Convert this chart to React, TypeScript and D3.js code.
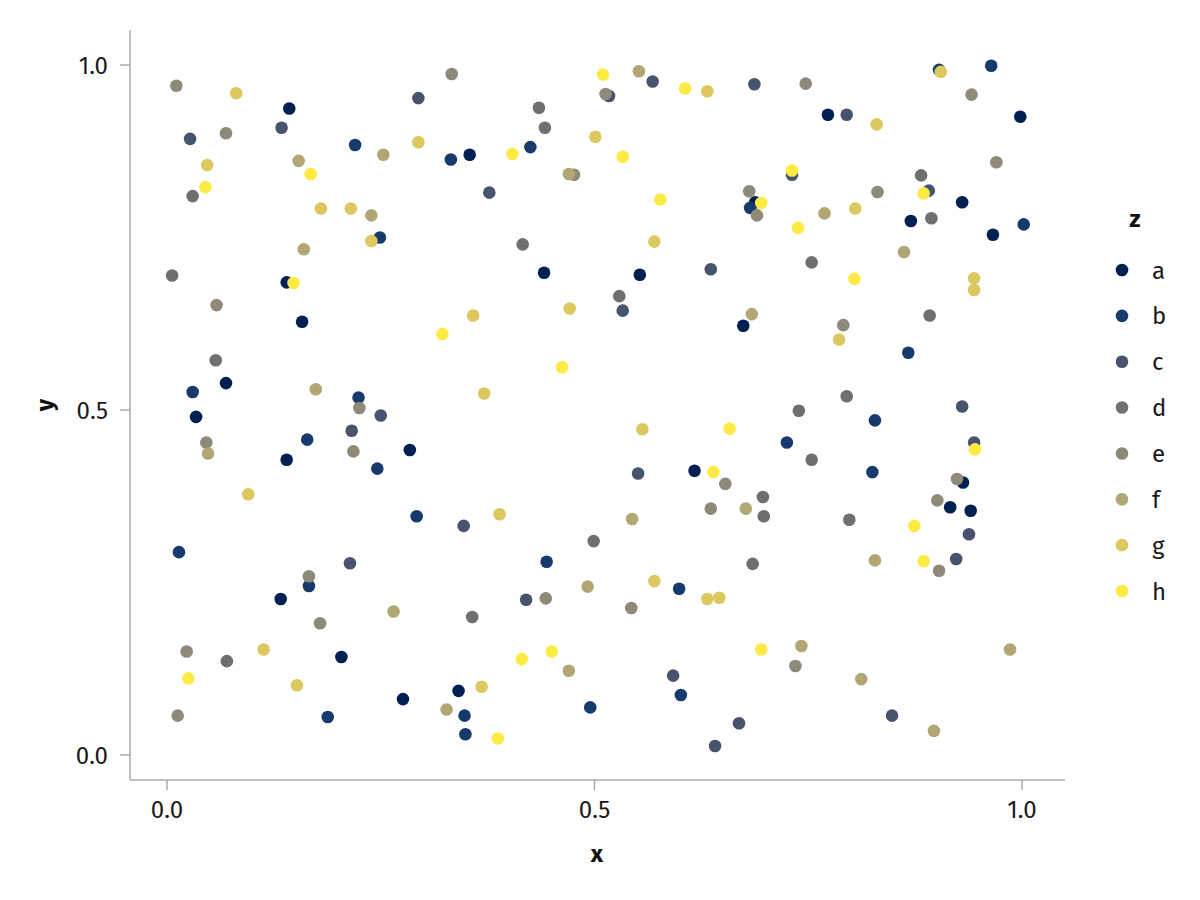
import React from "react";
import * as d3 from "d3";

// one list of [x, y] per level of z
const ptsA = [[0.143,0.937],[0.354,0.870],[0.773,0.928],[0.998,0.925],[0.930,0.801],[0.870,0.774],[0.966,0.754],[0.441,0.699],[0.553,0.696],[0.140,0.685],[0.158,0.628],[0.069,0.539],[0.034,0.490],[0.140,0.428],[0.284,0.442],[0.674,0.622],[0.617,0.412],[0.931,0.395],[0.916,0.359],[0.940,0.354],[0.133,0.226],[0.204,0.142],[0.276,0.081],[0.341,0.093],[0.688,0.801]];
const ptsB = [[0.220,0.884],[0.332,0.863],[0.425,0.881],[0.249,0.750],[0.682,0.793],[0.903,0.993],[0.964,0.999],[1.002,0.769],[0.030,0.526],[0.224,0.518],[0.164,0.457],[0.246,0.415],[0.292,0.346],[0.867,0.583],[0.828,0.485],[0.725,0.453],[0.825,0.410],[0.014,0.294],[0.166,0.245],[0.348,0.057],[0.349,0.030],[0.188,0.055],[0.444,0.280],[0.599,0.241],[0.601,0.087],[0.495,0.069]];
const ptsC = [[0.134,0.909],[0.027,0.893],[0.294,0.952],[0.517,0.955],[0.568,0.976],[0.687,0.972],[0.377,0.815],[0.795,0.928],[0.731,0.841],[0.891,0.818],[0.636,0.704],[0.533,0.644],[0.250,0.492],[0.216,0.470],[0.347,0.332],[0.551,0.408],[0.930,0.505],[0.944,0.453],[0.938,0.320],[0.214,0.278],[0.420,0.225],[0.592,0.115],[0.669,0.046],[0.641,0.013],[0.923,0.284],[0.848,0.057]];
const ptsD = [[0.030,0.810],[0.006,0.695],[0.435,0.938],[0.442,0.909],[0.416,0.740],[0.529,0.665],[0.882,0.840],[0.894,0.778],[0.754,0.714],[0.057,0.572],[0.697,0.374],[0.698,0.346],[0.892,0.637],[0.795,0.520],[0.739,0.499],[0.754,0.428],[0.798,0.341],[0.357,0.200],[0.070,0.136],[0.499,0.310],[0.685,0.277]];
const ptsE = [[0.011,0.970],[0.069,0.901],[0.333,0.987],[0.513,0.958],[0.476,0.841],[0.681,0.817],[0.690,0.782],[0.747,0.973],[0.941,0.957],[0.970,0.859],[0.831,0.816],[0.058,0.652],[0.225,0.503],[0.046,0.453],[0.218,0.440],[0.653,0.393],[0.636,0.357],[0.791,0.623],[0.924,0.400],[0.901,0.369],[0.166,0.259],[0.179,0.191],[0.023,0.150],[0.0125,0.057],[0.443,0.227],[0.543,0.213],[0.903,0.267],[0.735,0.129]];
const ptsF = [[0.253,0.870],[0.154,0.861],[0.239,0.782],[0.160,0.733],[0.552,0.991],[0.470,0.842],[0.769,0.785],[0.862,0.729],[0.174,0.530],[0.048,0.437],[0.684,0.639],[0.677,0.357],[0.544,0.342],[0.265,0.208],[0.327,0.066],[0.492,0.244],[0.470,0.122],[0.828,0.282],[0.742,0.158],[0.812,0.110],[0.986,0.153],[0.897,0.035]];
const ptsG = [[0.081,0.959],[0.294,0.888],[0.047,0.855],[0.180,0.792],[0.215,0.792],[0.239,0.745],[0.501,0.896],[0.632,0.962],[0.570,0.744],[0.905,0.990],[0.830,0.914],[0.805,0.792],[0.944,0.691],[0.944,0.674],[0.358,0.637],[0.471,0.647],[0.371,0.524],[0.556,0.472],[0.389,0.349],[0.095,0.378],[0.786,0.602],[0.113,0.153],[0.152,0.101],[0.368,0.099],[0.570,0.252],[0.632,0.226],[0.646,0.228]];
const ptsH = [[0.168,0.842],[0.045,0.823],[0.148,0.684],[0.510,0.986],[0.606,0.966],[0.404,0.871],[0.533,0.867],[0.577,0.805],[0.695,0.800],[0.731,0.847],[0.885,0.814],[0.738,0.764],[0.804,0.690],[0.322,0.610],[0.462,0.562],[0.658,0.473],[0.639,0.410],[0.945,0.443],[0.874,0.332],[0.025,0.111],[0.415,0.139],[0.450,0.150],[0.695,0.153],[0.387,0.024],[0.885,0.281]];

const levels = ["a", "b", "c", "d", "e", "f", "g", "h"];
const series = [ptsA, ptsB, ptsC, ptsD, ptsE, ptsF, ptsG, ptsH];
const ticks = [0, 0.5, 1];

const font = "'Fira Sans', 'Noto Sans', sans-serif";
const axisColor = "#aaaaaa";
const textColor = "#1a1a1a";

const App = () => {
    const xScale = d3.scaleLinear().domain([0, 1]).range([167, 1022]);
    const yScale = d3.scaleLinear().domain([0, 1]).range([755, 65]);
    const color = d3.scaleOrdinal<string, string>()
        .domain(levels)
        .range(d3.quantize(d3.interpolateCividis, levels.length));
    const legendY = d3.scalePoint().domain(levels).range([270, 591]);

    const left = 130, bottom = 780, top = 30, right = 1065;

    return (
        <svg width={1200} height={900}
             style={{ position: "absolute", left: 0, top: 0, background: "#fff" }}
             fontFamily={font}>
            {/* axes lines */}
            <line x1={left} x2={left} y1={top} y2={bottom} stroke={axisColor} strokeWidth={1.5} />
            <line x1={left} x2={right} y1={bottom} y2={bottom} stroke={axisColor} strokeWidth={1.5} />

            {ticks.map(t => (
                <g key={"y" + t}>
                    <line x1={left - 10} x2={left} y1={yScale(t)} y2={yScale(t)} stroke={axisColor} strokeWidth={1.5} />
                    <text x={left - 22} y={yScale(t)} dy="0.36em" textAnchor="end"
                          fontSize={24} fill={textColor}>{d3.format(".1f")(t)}</text>
                </g>
            ))}
            {ticks.map(t => (
                <g key={"x" + t}>
                    <line x1={xScale(t)} x2={xScale(t)} y1={bottom} y2={bottom + 10} stroke={axisColor} strokeWidth={1.5} />
                    <text x={xScale(t)} y={bottom + 38} textAnchor="middle"
                          fontSize={24} fill={textColor}>{d3.format(".1f")(t)}</text>
                </g>
            ))}

            <text x={597} y={862} textAnchor="middle" fontSize={24} fontWeight="bold" fill="#111">x</text>
            <text transform="translate(53,405) rotate(-90)" textAnchor="middle"
                  fontSize={24} fontWeight="bold" fill="#111">y</text>

            {/* points, drawn level by level so later levels sit on top */}
            {series.map((pts, i) => (
                <g key={levels[i]} fill={color(levels[i])}>
                    {pts.map((d, j) => (
                        <circle key={j} cx={xScale(d[0])} cy={yScale(d[1])} r={6.3} />
                    ))}
                </g>
            ))}

            {/* legend */}
            <text x={1135} y={227} textAnchor="middle" fontSize={24} fontWeight="bold" fill="#111">z</text>
            {levels.map(l => (
                <g key={"leg" + l}>
                    <circle cx={1122} cy={legendY(l)} r={6.3} fill={color(l)} />
                    <text x={1152} y={legendY(l)} dy="0.36em" fontSize={24} fill={textColor}>{l}</text>
                </g>
            ))}
        </svg>
    );
};

export default App;
